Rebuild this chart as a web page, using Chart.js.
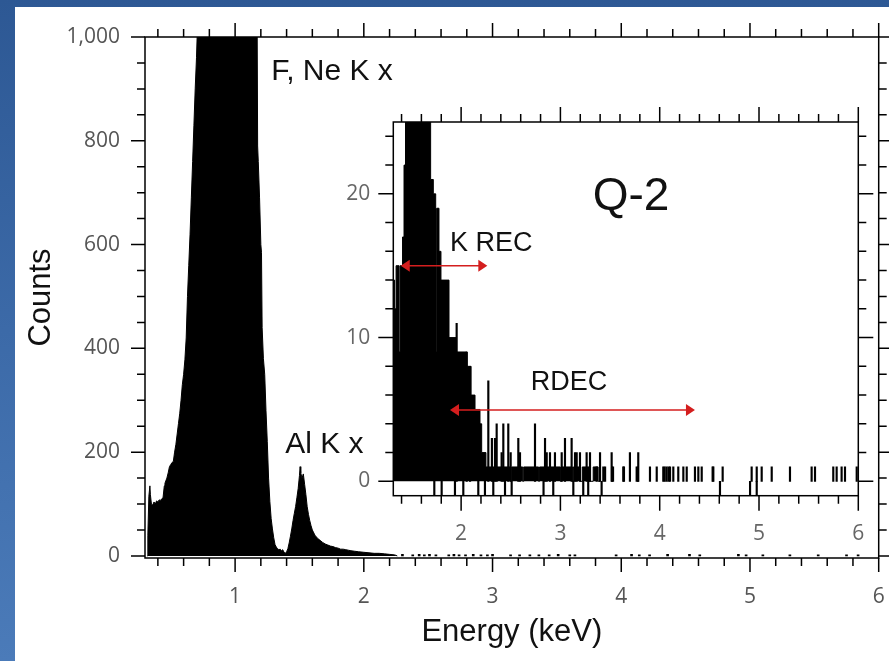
<!DOCTYPE html>
<html lang="en">
<head>
<meta charset="UTF-8">
<title>Q-2 X-ray spectrum</title>
<script src="https://cdn.jsdelivr.net/npm/chart.js"></script>
<style>
  html, body { margin: 0; padding: 0; }
  body {
    width: 889px; height: 661px; overflow: hidden; position: relative;
    background: linear-gradient(180deg, #2d5894 0%, #3c6aa8 50%, #4b7bb9 100%);
  }
  #panel { position: absolute; left: 15px; top: 7px; width: 874px; height: 654px; background: #fff; }
  #mainChart { position: absolute; left: 0; top: 0; }
  #insetChart { position: absolute; left: 325px; top: 93px; }
</style>
</head>
<body>
<div id="panel">
  <canvas id="mainChart" width="874" height="654"></canvas>
  <canvas id="insetChart" width="540" height="445"></canvas>
</div>

<script>
// main spectrum (energy in keV, counts)
const mainE = [0.318, 0.322, 0.33, 0.338, 0.342, 0.35, 0.36, 0.37, 0.38, 0.39,
  0.40, 0.41, 0.42, 0.43, 0.44, 0.45, 0.455, 0.47, 0.48, 0.49,
  0.50, 0.51, 0.52, 0.53, 0.54, 0.55, 0.56, 0.57, 0.58, 0.59,
  0.60, 0.61, 0.62, 0.63, 0.64, 0.65, 0.66, 0.67, 0.68, 0.69,
  0.70, 0.705, 0.71, 1.17, 1.175, 1.18, 1.19, 1.20, 1.205, 1.21,
  1.22, 1.23, 1.24, 1.25, 1.26, 1.27, 1.28, 1.29, 1.30, 1.31,
  1.32, 1.33, 1.34, 1.35, 1.36, 1.37, 1.38, 1.39, 1.40, 1.41,
  1.42, 1.43, 1.44, 1.45, 1.46, 1.47, 1.48, 1.49, 1.50, 1.505,
  1.51, 1.52, 1.53, 1.54, 1.55, 1.56, 1.57, 1.58, 1.59, 1.60,
  1.62, 1.64, 1.66, 1.68, 1.70, 1.72, 1.74, 1.76, 1.78, 1.80,
  1.82, 1.84, 1.86, 1.88, 1.90, 1.93, 1.96, 2.00, 2.04, 2.08,
  2.12, 2.16, 2.20, 2.24, 2.26];
const mainC = [0, 40, 115, 135, 118, 100, 98, 104, 100, 106,
  104, 108, 107, 110, 112, 135, 140, 150, 160, 172,
  176, 180, 182, 200, 215, 235, 255, 275, 300, 330,
  350, 378, 420, 500, 560, 620, 690, 760, 830, 900,
  960, 1000, 1100, 1100, 790, 760, 690, 600, 585, 440,
  380, 350, 280, 220, 150, 105, 72, 52, 35, 22,
  17, 14, 12, 13, 10, 12, 7, 5, 8, 14,
  25, 38, 52, 68, 82, 95, 112, 130, 155, 172,
  160, 150, 158, 138, 118, 95, 80, 68, 58, 50,
  40, 34, 30, 26, 23, 21, 19, 18, 16, 15,
  13, 13, 12, 11, 10, 9, 8, 7, 6, 5,
  5, 4, 3, 2, 0];

// sparse counts in the main tail
const tailE = [2.30, 2.38, 2.43, 2.47, 2.51, 2.56, 2.66, 2.70, 2.74, 2.79,
  2.85, 2.91, 2.96, 3.00, 3.14, 3.21, 3.29, 3.36, 3.44, 3.51,
  3.60, 3.64, 3.96, 4.08, 4.14, 4.22, 4.36, 4.53, 4.61, 4.91,
  4.97, 5.10, 5.31, 5.53, 5.75, 5.84];
const tailC = [3, 2, 3, 2, 3, 2, 2, 3, 2, 2,
  3, 2, 2, 3, 2, 2, 2, 2, 2, 3,
  2, 2, 2, 3, 2, 2, 3, 3, 2, 3,
  2, 2, 2, 2, 2, 2];

// inset Q-2: histogram steps (value holds from this energy to the next)
const insetE = [1.318, 1.33, 1.345, 1.375, 1.385, 1.41, 1.425, 1.44, 1.693, 1.72,
  1.744, 1.75, 1.757, 1.777, 1.797, 1.878, 1.95, 2.06, 2.1, 2.14,
  2.19, 2.207, 2.25, 2.5, 2.51, 2.62, 2.63, 2.78, 2.79, 3.0,
  3.01, 3.12, 3.13, 3.2, 3.22, 3.29, 3.33, 3.38, 3.40];
const insetV = [14, 12, 15, 9, 15, 17, 22, 30, 21, 20,
  19, 9, 19, 16, 14, 10, 9, 8, 6, 5,
  4, 2, 1, 0, 1, 0, 1, 0, 1, 0,
  1, 0, 1, 0, 1, 0, 1, 0, 0];

// inset single-bin spikes
const spikeE = [1.955, 2.056, 2.09, 2.274, 2.31, 2.341, 2.358, 2.408, 2.425, 2.475,
  2.499, 2.576, 2.593, 2.744, 2.845, 2.862, 2.895, 2.945, 3.013, 3.046,
  3.113, 3.147, 3.164, 3.197, 3.264, 3.298, 3.399, 3.516, 3.70, 3.784];
const spikeV = [11, 9, 8, 7, 3, 3, 4, 2, 4, 4,
  2, 3, 2, 4, 3, 2, 2, 2, 2, 3,
  3, 2, 2, 2, 2, 2, 2, 2, 2, 2];

const oneE = [3.365, 3.432, 3.45, 3.52, 3.53, 3.633, 3.64, 3.768, 3.78, 3.902,
  3.97, 4.036, 4.05, 4.07, 4.09, 4.104, 4.137, 4.187, 4.238, 4.272,
  4.355, 4.389, 4.423, 4.533, 4.54, 4.634, 4.926, 4.977, 5.027, 5.128,
  5.312, 5.53, 5.564, 5.748, 5.782, 5.832, 5.866, 5.984];
const oneV = [1, 1, 1, 1, 1, 1, 1, 1, 1, 1,
  1, 1, 1, 1, 1, 1, 1, 1, 1, 1,
  1, 1, 1, 1, 1, 1, 1, 1, 1, 1,
  1, 1, 1, 1, 1, 1, 1, 1];

const negE = [1.73, 1.804, 1.938, 2.022, 2.173, 2.24, 2.324, 2.442, 2.509, 2.83,
  2.928, 3.13, 3.23, 3.28, 3.415, 4.607, 4.91, 4.977];
const negV = [-1, -1, -1, -1, -1, -1, -1, -1, -1, -1,
  -1, -1, -1, -1, -1, -1, -1, -1];

// tick labels
const mainXLabels = [1, 2, 3, 4, 5, 6];
const mainYLabels = [0, 200, 400, 600, 800, 1000];
const insetXLabels = [2, 3, 4, 5, 6];
const insetYLabels = [0, 10, 20];

const pts = (xs, ys) => xs.map((x, i) => ({x: x, y: ys[i]}));

const tickFont = {family: '"Open Sans", sans-serif', size: 21};
const textFont = '"Liberation Sans", Arial, sans-serif';

// box frame with outward major/minor ticks on all four sides
const frameTicks = {
  id: 'frameTicks',
  afterDraw(chart, args, o) {
    const {ctx, chartArea: a, scales: {x, y}} = chart;
    const isMajor = (v, m) => Math.abs(v / m - Math.round(v / m)) < 1e-6;
    ctx.save();
    ctx.strokeStyle = '#000';
    ctx.lineWidth = 1.5;
    ctx.strokeRect(a.left, a.top, a.right - a.left, a.bottom - a.top);
    ctx.beginPath();
    for (let i = 0; ; i++) {
      const v = +(o.x[0] + i * o.x[1]).toFixed(4);
      if (v > o.x[2] + 1e-9) break;
      const p = x.getPixelForValue(v);
      const len = isMajor(v, o.x[3]) ? o.major : o.minor;
      ctx.moveTo(p, a.bottom); ctx.lineTo(p, a.bottom + len);
      ctx.moveTo(p, a.top); ctx.lineTo(p, a.top - len);
    }
    for (let i = 0; ; i++) {
      const v = +(o.y[0] + i * o.y[1]).toFixed(4);
      if (v > o.y[2] + 1e-9) break;
      const p = y.getPixelForValue(v);
      const len = isMajor(v, o.y[3]) ? o.major : o.minor;
      ctx.moveTo(a.left, p); ctx.lineTo(a.left - len, p);
      ctx.moveTo(a.right, p); ctx.lineTo(a.right + len, p);
    }
    ctx.stroke();
    ctx.restore();
  }
};

// peak labels and red range arrows
const notes = {
  id: 'notes',
  afterDraw(chart, args, o) {
    const {ctx, scales: {x, y}} = chart;
    ctx.save();
    (o.texts || []).forEach(t => {
      ctx.font = t.size + 'px ' + textFont;
      ctx.fillStyle = '#111';
      ctx.textAlign = t.align;
      ctx.textBaseline = 'alphabetic';
      ctx.fillText(t.text, x.getPixelForValue(t.x), y.getPixelForValue(t.y));
    });
    (o.arrows || []).forEach(r => {
      const x1 = x.getPixelForValue(r[0]), x2 = x.getPixelForValue(r[1]), py = y.getPixelForValue(r[2]);
      ctx.strokeStyle = '#d41e1e';
      ctx.fillStyle = '#d41e1e';
      ctx.lineWidth = 1.6;
      ctx.beginPath();
      ctx.moveTo(x1 + 6, py); ctx.lineTo(x2 - 6, py);
      ctx.stroke();
      ctx.beginPath();
      ctx.moveTo(x1, py); ctx.lineTo(x1 + 9, py - 6); ctx.lineTo(x1 + 9, py + 6); ctx.closePath();
      ctx.moveTo(x2, py); ctx.lineTo(x2 - 9, py - 6); ctx.lineTo(x2 - 9, py + 6); ctx.closePath();
      ctx.fill();
    });
    ctx.restore();
  }
};

const whiteArea = {
  id: 'whiteArea',
  beforeDraw(chart) {
    const {ctx, chartArea: a} = chart;
    ctx.save();
    ctx.fillStyle = '#fff';
    ctx.fillRect(a.left - 1, a.top - 1, a.right - a.left + 2, a.bottom - a.top + 2);
    ctx.restore();
  }
};

function fixedTicks(list) {
  return s => { s.ticks = list.map(v => ({value: v})); };
}
// pin the axis box size and drop the label overflow padding
function fitBox(key, size) {
  return s => {
    s[key] = size;
    s.paddingTop = 0; s.paddingBottom = 0; s.paddingLeft = 0; s.paddingRight = 0;
  };
}

new Chart(document.getElementById('mainChart'), {
  type: 'line',
  data: {
    datasets: [
      {data: pts(mainE, mainC), borderColor: '#000', backgroundColor: '#000', borderWidth: 1,
       pointRadius: 0, fill: 'origin', clip: 0},
      {type: 'bar', data: pts(tailE, tailC), backgroundColor: '#000', barThickness: 2, grouped: false}
    ]
  },
  options: {
    responsive: false,
    animation: false,
    devicePixelRatio: 1,
    layout: {padding: {top: 30, right: 10.3, left: 0, bottom: 0}, autoPadding: false},
    plugins: {
      legend: {display: false},
      tooltip: {enabled: false},
      frameTicks: {x: [0.4, 0.2, 6, 1], y: [0, 50, 1000, 200], major: 14, minor: 8},
      notes: {
        texts: [
          {text: 'F, Ne K x', x: 1.28, y: 918, size: 30, align: 'left'},
          {text: 'Al K x', x: 1.389, y: 198, size: 30, align: 'left'}
        ]
      }
    },
    scales: {
      x: {
        type: 'linear', min: 0.3, max: 6, offset: false,
        afterBuildTicks: fixedTicks(mainXLabels),
        afterFit: fitBox('height', 103),
        grid: {display: false, drawTicks: false},
        border: {display: false},
        ticks: {padding: 26, font: tickFont, color: '#555'},
        title: {display: true, text: 'Energy (keV)', color: '#111',
                font: {family: textFont, size: 31}, padding: {top: 0, bottom: 10}}
      },
      y: {
        type: 'linear', min: -4, max: 1000,
        afterBuildTicks: fixedTicks(mainYLabels),
        afterFit: fitBox('width', 130),
        grid: {display: false, drawTicks: false},
        border: {display: false},
        ticks: {padding: 25, font: tickFont, color: '#555'},
        title: {display: true, text: 'Counts', color: '#111',
                font: {family: textFont, size: 31}, padding: {top: 8, bottom: 0}}
      }
    }
  },
  plugins: [frameTicks, notes]
});

new Chart(document.getElementById('insetChart'), {
  type: 'line',
  data: {
    datasets: [
      {data: pts(insetE, insetV), borderColor: '#000', backgroundColor: '#000', borderWidth: 1,
       pointRadius: 0, fill: 'origin', stepped: 'before', clip: 0},
      {type: 'bar', data: pts(spikeE, spikeV), backgroundColor: '#000', barThickness: 1.5, grouped: false},
      {type: 'bar', data: pts(oneE, oneV), backgroundColor: '#000', barThickness: 1.5, grouped: false},
      {type: 'bar', data: pts(negE, negV), backgroundColor: '#000', barThickness: 1.5, grouped: false}
    ]
  },
  options: {
    responsive: false,
    animation: false,
    devicePixelRatio: 1,
    layout: {padding: {top: 22, right: 21.7, left: 0, bottom: 0}, autoPadding: false},
    plugins: {
      legend: {display: false},
      tooltip: {enabled: false},
      frameTicks: {x: [1.4, 0.2, 6, 1], y: [0, 2, 24, 10], major: 15, minor: 8},
      notes: {
        texts: [
          {text: 'Q-2', x: 3.711, y: 18.9, size: 46, align: 'center'},
          {text: 'K REC', x: 1.888, y: 16.05, size: 27, align: 'left'},
          {text: 'RDEC', x: 2.701, y: 6.35, size: 27, align: 'left'}
        ],
        arrows: [[1.392, 2.264, 15.0], [1.888, 4.355, 4.96]]
      }
    },
    scales: {
      x: {
        type: 'linear', min: 1.317, max: 6, offset: false,
        afterBuildTicks: fixedTicks(insetXLabels),
        afterFit: fitBox('height', 49.3),
        grid: {display: false, drawTicks: false},
        border: {display: false},
        ticks: {padding: 26, font: tickFont, color: '#666'}
      },
      y: {
        type: 'linear', min: -1, max: 25,
        afterBuildTicks: fixedTicks(insetYLabels),
        afterFit: fitBox('width', 53.3),
        grid: {display: false, drawTicks: false},
        border: {display: false},
        ticks: {padding: 23, font: tickFont, color: '#666'}
      }
    }
  },
  plugins: [whiteArea, frameTicks, notes]
});
</script>
</body>
</html>
